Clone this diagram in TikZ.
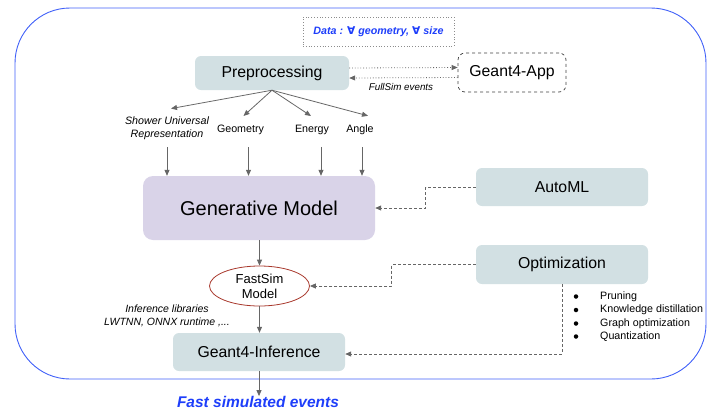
\documentclass[tikz,border=0pt]{standalone}
\usepackage{fontspec}
\setmainfont{Liberation Sans}
\newfontfamily\djv{DejaVu Sans}
\usetikzlibrary{arrows.meta,shapes.geometric}
\definecolor{boxfill}{HTML}{D2E0E3}
\definecolor{genfill}{HTML}{D9D3E8}
\definecolor{frameblue}{HTML}{4060F8}
\definecolor{txtblue}{HTML}{1E3EFA}
\definecolor{arr}{HTML}{666666}
\definecolor{ellred}{HTML}{A8382C}
\newcommand{\fsz}[1]{\fontsize{#1}{#1}\selectfont}
\begin{document}
\begin{tikzpicture}[x=1pt,y=-1pt,
  box/.style={fill=boxfill, rounded corners=6pt, font=\fsz{15.8}, inner sep=0pt},
  genbox/.style={fill=genfill, rounded corners=10pt, font=\fsz{20}, inner sep=0pt},
  appbox/.style={draw=black!75, dashed, rounded corners=7pt, font=\fsz{15.8}, inner sep=0pt, line width=0.7pt},
  databox/.style={draw=black!45, dotted, inner sep=0pt, line width=0.8pt, font=\fsz{10.7}\bfseries\itshape, text=txtblue},
  lbl/.style={font=\fsz{10.7}, align=center, inner sep=0pt},
  ilbl/.style={font=\fsz{10.7}\itshape, align=center, inner sep=0pt},
  arrow/.style={draw=arr, line width=0.8pt, -{Triangle[length=6pt,width=5pt]}, color=arr},
  dotarrow/.style={arrow, dotted},
  dasharrow/.style={arrow, dashed, dash pattern=on 3pt off 2pt},
  bullet/.style={circle, fill=black, inner sep=0pt, minimum size=4.5pt},
  item/.style={font=\fsz{10.7}, anchor=west, inner sep=0pt}
]
\useasboundingbox (0,0) rectangle (707,410);
% frame
\draw[frameblue, line width=0.9pt, rounded corners=55pt] (15,8) rectangle (706,379);

% nodes
\node[databox, minimum width=151, minimum height=29] (data) at (378.5,31.5) {Data : {\djv\bfseries\itshape ∀} geometry, {\djv\bfseries\itshape ∀} size};
\node[box, minimum width=154, minimum height=34] (pre) at (272,73) {Preprocessing};
\node[appbox, minimum width=108, minimum height=39] (app) at (512,72.5) {Geant4-App};
\node[font=\fsz{9.8}\itshape, inner sep=0pt] (fse1) at (401,86.5) {FullSim events};

\node[ilbl] (sur) at (167,128) {Shower Universal\\[1.8pt]Representation};
\node[lbl] (geo) at (240.5,130) {Geometry};
\node[lbl] (ene) at (312,130) {Energy};
\node[lbl] (ang) at (360,130) {Angle};

\node[genbox, minimum width=232, minimum height=64] (gen) at (259,208) {Generative Model};
\node[box, minimum width=172, minimum height=38] (aut) at (562,187) {AutoML};
\node[box, minimum width=172, minimum height=39] (opt) at (562,264.5) {Optimization};

\node[ellipse, draw=ellred, line width=0.8pt, fill=white, minimum width=100, minimum height=40, inner sep=0pt, font=\fsz{13}, align=center] (fs) at (259.5,286) {FastSim\\[2pt]Model};
\node[font=\fsz{10.5}\itshape, align=center, inner sep=0pt] (inf) at (167,315.5) {Inference libraries\\[2.5pt]LWTNN, ONNX runtime ,...};
\node[box, minimum width=172, minimum height=38] (g4i) at (259,352) {Geant4-Inference};
\node[font=\fsz{15.5}\bfseries\itshape, text=txtblue, inner sep=0pt] (fast) at (258,402) {Fast simulated events};

% bullet list
\node[bullet] (b1) at (576,296.5) {};
\node[bullet] (b2) at (576,310) {};
\node[bullet] (b3) at (576,323.5) {};
\node[bullet] (b4) at (576,336.5) {};
\node[item] (t1) at (600,296.5) {Pruning};
\node[item] (t2) at (600,310) {Knowledge distillation};
\node[item] (t3) at (600,323.5) {Graph optimization};
\node[item] (t4) at (600,336.5) {Quantization};

% connectors
\draw[dotarrow] ([yshift=5pt]pre.east) -- ([yshift=5pt]app.west);
\draw[dotarrow] ([yshift=-5pt]app.west) -- ([yshift=-5pt]pre.east);

\draw[arrow] (pre.south) -- ([shift={(4,-8)}]sur.north);
\draw[arrow] (pre.south) -- ([shift={(3,-9)}]geo.north);
\draw[arrow] (pre.south) -- ([shift={(-1,-9)}]ene.north);
\draw[arrow] (pre.south) -- ([shift={(8,-9)}]ang.north);

\draw[arrow] ([yshift=-8pt]sur.south) -- (sur.south |- gen.north);
\draw[arrow] ([shift={(8,12)}]geo.south) -- ([xshift=8pt]geo.south |- gen.north);
\draw[arrow] ([shift={(9,12)}]ene.south) -- ([xshift=9pt]ene.south |- gen.north);
\draw[arrow] ([shift={(2,12)}]ang.south) -- ([xshift=2pt]ang.south |- gen.north);

\draw[dasharrow] (aut.west) -- ++(-50,0) |- (gen.east);
\draw[dasharrow] (opt.west) -- ++(-84,0) |- (fs.east);
\draw[dasharrow] (opt.south) |- ([yshift=-2pt]g4i.east);

\draw[arrow] (gen.south -| fs.north) -- (fs.north);
\draw[arrow] (fs.south) -- (fs.south |- g4i.north);
\draw[arrow] (g4i.south) -- (g4i.south |- fast.north);
\end{tikzpicture}
\end{document}
